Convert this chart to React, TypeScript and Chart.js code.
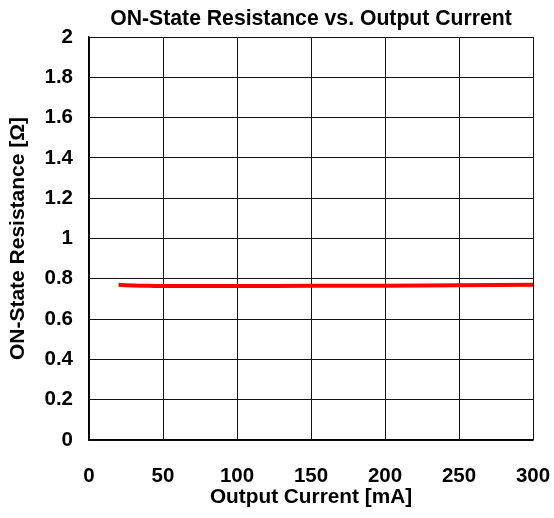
import React, { useEffect, useRef } from "react";
import { Chart, registerables } from "chart.js";

Chart.register(...registerables);

const currentMA = [20, 30, 40, 50, 75, 100, 150, 200, 250, 300];
const resistanceOhm = [0.77, 0.767, 0.765, 0.764, 0.764, 0.764, 0.765, 0.766, 0.768, 0.77];
const xTicks = [0, 50, 100, 150, 200, 250, 300];
const yTicks = [0, 0.2, 0.4, 0.6, 0.8, 1, 1.2, 1.4, 1.6, 1.8, 2];

const TITLE = "ON-State Resistance vs. Output Current";
const FONT = "'Liberation Sans', Arial, Helvetica, sans-serif";
const FS = 20.5;
const TS = 21.2;

const W = 554;
const H = 518;

const titlePlugin = {
  id: "centeredTitle",
  afterDraw(chart: any) {
    const { ctx, chartArea } = chart;
    ctx.save();
    ctx.font = `bold ${TS}px ${FONT}`;
    ctx.fillStyle = "#000";
    ctx.textAlign = "center";
    ctx.textBaseline = "alphabetic";
    ctx.fillText(TITLE, (chartArea.left + chartArea.right) / 2, 25);
    ctx.restore();
  },
};

export default function App() {
  const ref = useRef<HTMLCanvasElement>(null);
  useEffect(() => {
    if (!ref.current) return;
    const chart = new Chart(ref.current, {
      type: "line",
      data: {
        datasets: [
          {
            data: currentMA.map((x, i) => ({ x, y: resistanceOhm[i] })),
            borderColor: "#ff0000",
            borderWidth: 4,
            pointRadius: 0,
            tension: 0.3,
            fill: false,
          },
        ],
      },
      options: {
        animation: false,
        responsive: false,
        maintainAspectRatio: false,
        layout: { padding: { top: 37, right: W - 533, left: 0, bottom: 0 } },
        plugins: { legend: { display: false }, tooltip: { enabled: false }, title: { display: false } },
        scales: {
          x: {
            type: "linear",
            min: 0,
            max: 300,
            afterBuildTicks: (s: any) => {
              s.ticks = xTicks.map((v) => ({ value: v }));
            },
            afterFit: (s: any) => {
              s.height = H - 440;
              s.paddingLeft = 0;
              s.paddingRight = 0;
            },
            grid: { color: "#111", lineWidth: 1, drawTicks: false },
            border: { color: "#000", width: 1.5 },
            ticks: {
              color: "#000",
              padding: 24,
              font: { family: FONT, size: FS, weight: "bold" },
              maxRotation: 0,
            },
            title: {
              display: true,
              text: "Output Current [mA]",
              color: "#000",
              padding: { top: 4, bottom: 8 },
              font: { family: FONT, size: 20.8, weight: "bold" },
            },
          },
          y: {
            type: "linear",
            min: 0,
            max: 2,
            afterBuildTicks: (s: any) => {
              s.ticks = yTicks.map((v) => ({ value: v }));
            },
            afterFit: (s: any) => {
              s.width = 89;
              s.paddingTop = 0;
              s.paddingBottom = 0;
            },
            grid: { color: "#111", lineWidth: 1, drawTicks: false },
            border: { color: "#000", width: 1.5 },
            ticks: {
              color: "#000",
              padding: 16,
              font: { family: FONT, size: FS, weight: "bold" },
              callback: (v: any) => String(Math.round(Number(v) * 10) / 10),
            },
            title: {
              display: true,
              text: "ON-State Resistance [Ω]",
              color: "#000",
              padding: { top: 5.5, bottom: 0 },
              font: { family: FONT, size: 21, weight: "bold" },
            },
          },
        },
      },
      plugins: [titlePlugin],
    });
    return () => chart.destroy();
  }, []);
  return (
    <div style={{ position: "fixed", left: 0, top: 0, width: W, height: H, background: "#fff" }}>
      <canvas ref={ref} width={W} height={H} style={{ width: W, height: H, display: "block" }} />
    </div>
  );
}
